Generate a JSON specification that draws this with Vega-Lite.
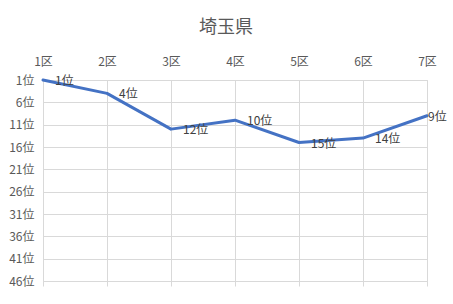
{
  "$schema": "https://vega.github.io/schema/vega-lite/v6.json",
  "autosize": "none",
  "width": 384,
  "height": 201,
  "padding": {"left": 43, "top": 80, "right": 26, "bottom": 23},
  "background": "white",
  "title": {"text": "埼玉県", "fontSize": 18, "color": "#595959", "font": "Noto Sans CJK JP", "fontWeight": "normal", "anchor": "middle", "dx": -9, "offset": 18},
  "config": {
    "view": {"stroke": "#d9d9d9"},
    "font": "Noto Sans CJK JP"
  },
  "data": {"values": [
    {"district": "1区", "rank": 1, "label": "1位"},
    {"district": "2区", "rank": 4, "label": "4位"},
    {"district": "3区", "rank": 12, "label": "12位"},
    {"district": "4区", "rank": 10, "label": "10位"},
    {"district": "5区", "rank": 15, "label": "15位"},
    {"district": "6区", "rank": 14, "label": "14位"},
    {"district": "7区", "rank": 9, "label": "9位"}
  ]},
  "encoding": {
    "y": {"field": "rank", "type": "quantitative",
      "scale": {"domain": [1, 46], "reverse": true, "nice": false, "zero": false},
      "axis": {"title": null, "values": [1, 6, 11, 16, 21, 26, 31, 36, 41, 46], "labelExpr": "datum.value + '位'", "domain": false, "ticks": false, "labelPadding": 9, "labelFontSize": 12, "labelColor": "#595959", "gridColor": "#d9d9d9", "gridWidth": 1}}
  },
  "layer": [
    {
      "mark": {"type": "line", "color": "#4472C4", "strokeWidth": 3, "strokeCap": "round", "strokeJoin": "round"},
      "encoding": {
        "x": {"field": "district", "type": "ordinal", "scale": {"type": "point", "padding": 0},
          "axis": {"orient": "top", "title": null, "labelAngle": 0, "domain": false, "ticks": false, "labelPadding": 12, "labelFontSize": 12, "labelColor": "#595959", "grid": true, "gridColor": "#d9d9d9", "gridWidth": 1}}
      }
    },
    {
      "transform": [{"filter": "datum.district != '7区'"}],
      "mark": {"type": "text", "align": "left", "baseline": "middle", "dx": 12, "dy": 1, "fontSize": 12, "color": "#404040"},
      "encoding": {
        "x": {"field": "district", "type": "ordinal", "scale": {"type": "point", "padding": 0},
          "axis": {"orient": "bottom", "title": null, "labels": false, "domain": false, "ticks": true, "tickSize": 5, "tickColor": "#d9d9d9", "grid": false}},
        "text": {"field": "label"}
      }
    },
    {
      "transform": [{"filter": "datum.district == '7区'"}],
      "mark": {"type": "text", "align": "left", "baseline": "middle", "dx": 1, "dy": 1, "fontSize": 12, "color": "#404040"},
      "encoding": {
        "x": {"field": "district", "type": "ordinal", "scale": {"type": "point", "padding": 0}, "axis": null},
        "text": {"field": "label"}
      }
    }
  ],
  "resolve": {"axis": {"x": "independent"}}
}
